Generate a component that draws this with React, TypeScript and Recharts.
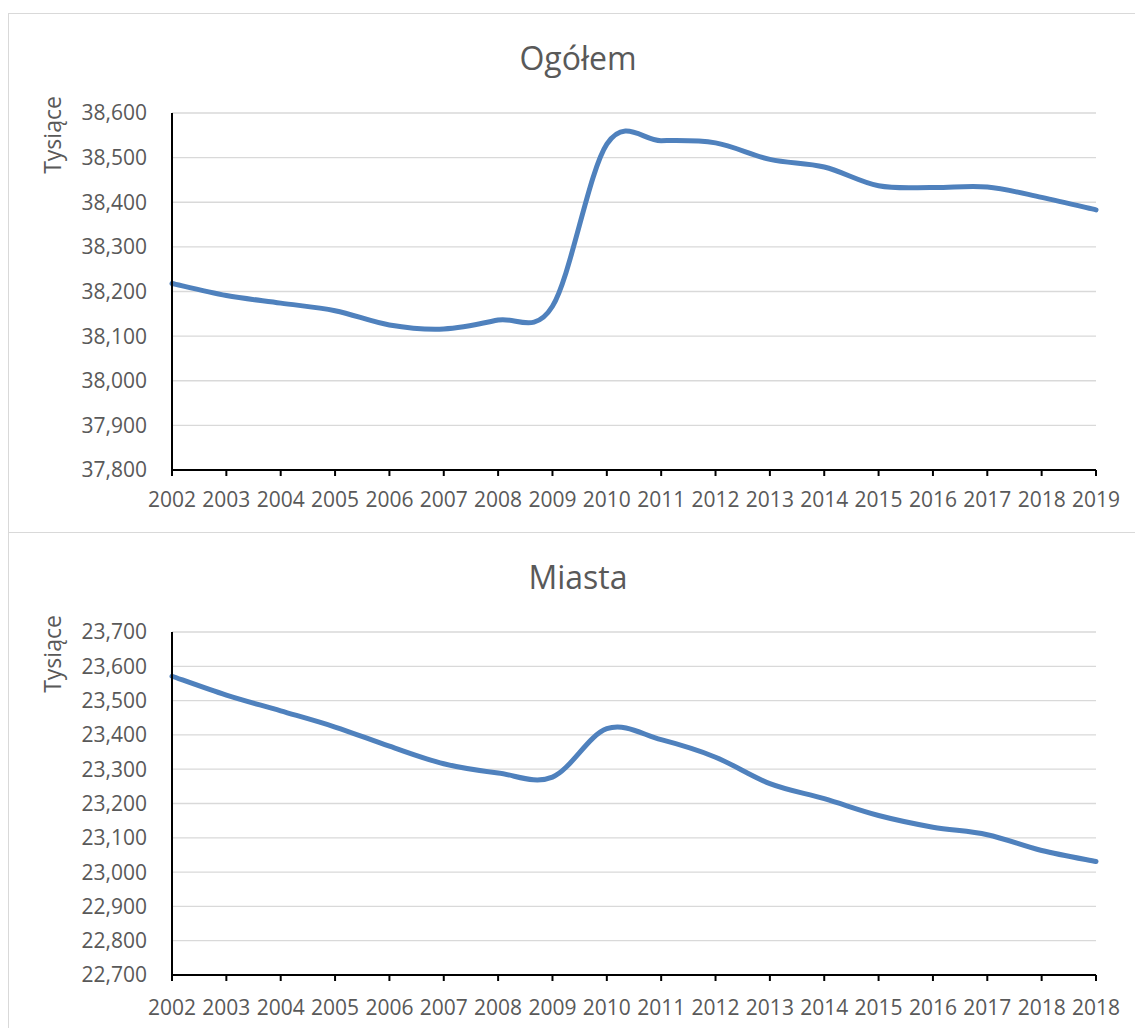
import React from 'react';
import { LineChart, Line, XAxis, YAxis, CartesianGrid, Label } from 'recharts';

// ---------- data ----------
const ogolemYears = ['2002', '2003', '2004', '2005', '2006', '2007', '2008', '2009', '2010', '2011', '2012', '2013', '2014', '2015', '2016', '2017', '2018', '2019'];
const ogolemValues = [38218, 38191, 38174, 38157, 38125, 38116, 38136, 38167, 38530, 38538, 38533, 38496, 38479, 38437, 38433, 38434, 38411, 38383];
const ogolemTicks = [37800, 37900, 38000, 38100, 38200, 38300, 38400, 38500, 38600];

const miastaYears = ['2002', '2003', '2004', '2005', '2006', '2007', '2008', '2009', '2010', '2011', '2012', '2013', '2014', '2015', '2016', '2017', '2018', '2018'];
const miastaValues = [23571, 23516, 23470, 23423, 23367, 23316, 23289, 23277, 23418, 23386, 23335, 23258, 23214, 23165, 23131, 23109, 23063, 23031];
const miastaTicks = [22700, 22800, 22900, 23000, 23100, 23200, 23300, 23400, 23500, 23600, 23700];

const ogolemTitle = 'Ogółem';
const miastaTitle = 'Miasta';
const yLabel = 'Tysiące';

// ---------- style ----------
const FONT = '"Open Sans", "Noto Sans", sans-serif';
const TEXT = '#595959';
const LINE = '#4f81bd';
const GRID = '#d9d9d9';

// Excel-like smoothed line (Catmull-Rom style Bezier)
const excelCurve: any = (context: any) => {
  let xs: number[] = [];
  let ys: number[] = [];
  return {
    areaStart() {},
    areaEnd() {},
    lineStart() {
      xs = [];
      ys = [];
    },
    point(x: number, y: number) {
      xs.push(+x);
      ys.push(+y);
    },
    lineEnd() {
      const n = xs.length;
      if (n === 0) return;
      context.moveTo(xs[0], ys[0]);
      for (let i = 0; i < n - 1; i++) {
        const i0 = Math.max(0, i - 1);
        const i3 = Math.min(n - 1, i + 2);
        const c1x = xs[i] + (xs[i + 1] - xs[i0]) / 6;
        const c1y = ys[i] + (ys[i + 1] - ys[i0]) / 6;
        const c2x = xs[i + 1] - (xs[i3] - xs[i]) / 6;
        const c2y = ys[i + 1] - (ys[i3] - ys[i]) / 6;
        context.bezierCurveTo(c1x, c1y, c2x, c2y, xs[i + 1], ys[i + 1]);
      }
    },
  };
};

const fmt = (v: number) => v.toLocaleString('en-US');

type PanelProps = {
  title: string;
  years: string[];
  values: number[];
  ticks: number[];
  top: number;
  height: number;
  bottomMargin: number;
  xTickMargin: number;
};

const W = 1138;

function Panel({ title, years, values, ticks, top, height, bottomMargin, xTickMargin }: PanelProps) {
  const data = years.map((y, i) => ({ year: y, value: values[i] }));
  return (
    <div
      style={{
        position: 'absolute',
        left: 8,
        top,
        width: W + 2,
        height: height + 2,
        boxSizing: 'border-box',
        border: `1px solid ${GRID}`,
        background: '#fff',
      }}
    >
      <div
        style={{
          position: 'absolute',
          left: 0,
          top: 28,
          width: W,
          textAlign: 'center',
          fontFamily: FONT,
          fontSize: 32,
          lineHeight: '32px',
          color: TEXT,
        }}
      >
        {title}
      </div>
      <LineChart
        width={W}
        height={height}
        data={data}
        margin={{ top: 99, right: 51, bottom: bottomMargin, left: 0 }}
      >
        <CartesianGrid vertical={false} stroke={GRID} strokeWidth={1.3} />
        <XAxis
          dataKey="year"
          height={62}
          interval={0}
          axisLine={{ stroke: '#000', strokeWidth: 2 }}
          tickLine={{ stroke: '#000', strokeWidth: 2 }}
          tickSize={6}
          tickMargin={xTickMargin}
          tick={{ fill: TEXT, fontSize: 21, fontFamily: FONT }}
        />
        <YAxis
          width={163}
          domain={[ticks[0], ticks[ticks.length - 1]]}
          ticks={ticks}
          interval={0}
          tickFormatter={fmt}
          axisLine={{ stroke: '#000', strokeWidth: 2 }}
          tickLine={false}
          tickSize={0}
          tickMargin={25}
          tick={{ fill: TEXT, fontSize: 21, fontFamily: FONT }}
        >
          <Label
            content={(props: any) => {
              const vb = props.viewBox || { x: 0, y: 99 };
              const cx = 52;
              const cy = vb.y + 22;
              return (
                <text
                  transform={`translate(${cx}, ${cy}) rotate(-90)`}
                  textAnchor="middle"
                  fill={TEXT}
                  fontSize={23}
                  fontFamily={FONT}
                >
                  {yLabel}
                </text>
              );
            }}
          />
        </YAxis>
        <Line
          dataKey="value"
          type={excelCurve}
          stroke={LINE}
          strokeWidth={5}
          strokeLinecap="round"
          dot={false}
          activeDot={false}
          isAnimationActive={false}
        />
      </LineChart>
    </div>
  );
}

export default function App() {
  return (
    <div
      style={{
        position: 'absolute',
        left: 0,
        top: 0,
        width: 1135,
        height: 1028,
        overflow: 'hidden',
        background: '#fff',
      }}
    >
      <Panel
        title={ogolemTitle}
        years={ogolemYears}
        values={ogolemValues}
        ticks={ogolemTicks}
        top={13}
        height={518}
        bottomMargin={0}
        xTickMargin={16}
      />
      <Panel
        title={miastaTitle}
        years={miastaYears}
        values={miastaValues}
        ticks={miastaTicks}
        top={532}
        height={518}
        bottomMargin={14}
        xTickMargin={19}
      />
    </div>
  );
}
